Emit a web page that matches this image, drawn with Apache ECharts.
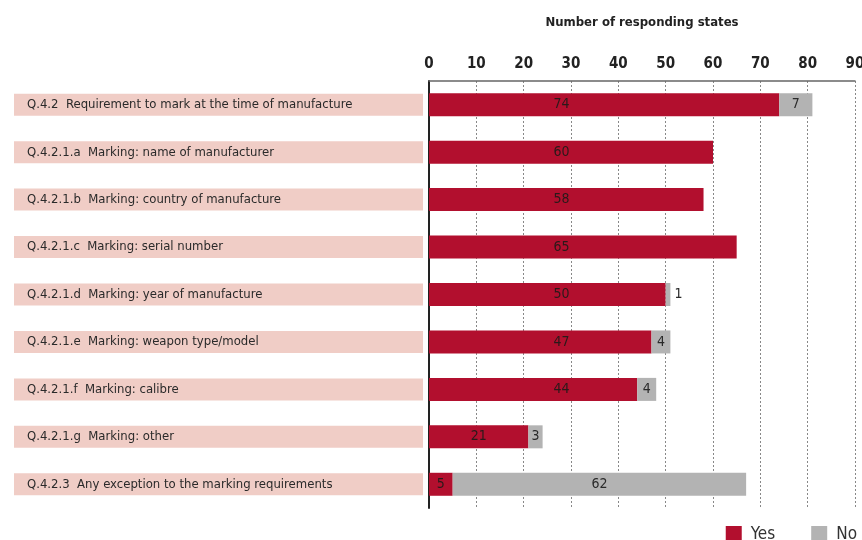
<!DOCTYPE html>
<html>
<head>
<meta charset="utf-8">
<script src="https://cdn.jsdelivr.net/npm/echarts@6/dist/echarts.min.js"></script>
<style>
  html, body { margin: 0; padding: 0; background: #fff; }
  #chart { width: 862px; height: 540px; }
</style>
</head>
<body>
<div id="chart"></div>
<script>
const categories = [
  'Q.4.2  Requirement to mark at the time of manufacture',
  'Q.4.2.1.a  Marking: name of manufacturer',
  'Q.4.2.1.b  Marking: country of manufacture',
  'Q.4.2.1.c  Marking: serial number',
  'Q.4.2.1.d  Marking: year of manufacture',
  'Q.4.2.1.e  Marking: weapon type/model',
  'Q.4.2.1.f  Marking: calibre',
  'Q.4.2.1.g  Marking: other',
  'Q.4.2.3  Any exception to the marking requirements'
];
const yesValues = [74, 60, 58, 65, 50, 47, 44, 21, 5];
const noValues = [7, 0, 0, 0, 1, 4, 4, 3, 62];
const xTicks = [0, 10, 20, 30, 40, 50, 60, 70, 80, 90];

const FONT = '"DejaVu Sans Condensed", "Liberation Sans Narrow", sans-serif';
const pxPerUnit = 426 / 90;

const chart = echarts.init(document.getElementById('chart'));

const yesData = yesValues.map(v => ({
  value: v,
  label: {
    // long bars keep their number near the middle of the axis
    position: v >= 40 ? [28 * pxPerUnit, '50%'] : 'inside'
  }
}));

const noData = noValues.map(v => ({
  value: v,
  label: {
    show: v > 0,
    position: v < 2 ? 'right' : 'inside'
  }
}));

const option = {
  animation: false,
  textStyle: { fontFamily: FONT },
  grid: { left: 429, right: 7, top: 81, bottom: 32, outerBoundsMode: 'none', containLabel: false },
  legend: {
    right: 0,
    top: 521,
    itemWidth: 16,
    itemHeight: 17,
    itemGap: 36,
    icon: 'rect',
    textStyle: { fontFamily: FONT, fontSize: 17, color: '#333', padding: [0, 0, 0, 4] },
    data: ['Yes', 'No']
  },
  xAxis: {
    type: 'value',
    position: 'top',
    min: 0,
    max: 90,
    interval: 10,
    name: 'Number of responding states',
    nameLocation: 'middle',
    nameGap: 52,
    nameTextStyle: { fontFamily: FONT, fontWeight: 'bold', fontSize: 13, color: '#222' },
    axisLine: { show: true, lineStyle: { color: '#666', width: 1.5 } },
    axisTick: { show: false },
    axisLabel: {
      margin: 9,
      fontFamily: FONT,
      fontWeight: 'bold',
      fontSize: 15,
      color: '#222',
      formatter: v => xTicks.includes(v) ? String(v) : ''
    },
    splitLine: { show: true, lineStyle: { color: '#888', type: [2, 2], width: 1 } }
  },
  yAxis: {
    type: 'category',
    inverse: true,
    data: categories,
    axisLine: { show: true, lineStyle: { color: '#222', width: 2 } },
    axisTick: { show: false },
    axisLabel: {
      margin: 415,
      align: 'left',
      width: 396,
      lineHeight: 22,
      padding: [0, 0, 0, 13],
      backgroundColor: '#f0cdc6',
      fontFamily: FONT,
      fontSize: 13,
      color: '#2a2a2a'
    }
  },
  series: [
    {
      name: 'Yes',
      type: 'bar',
      stack: 'total',
      barWidth: 23,
      itemStyle: { color: '#b20f2e' },
      label: {
        show: true,
        align: 'center',
        verticalAlign: 'middle',
        fontFamily: FONT,
        fontSize: 14,
        color: '#2a1a1a'
      },
      data: yesData
    },
    {
      name: 'No',
      type: 'bar',
      stack: 'total',
      barWidth: 23,
      itemStyle: { color: '#b3b3b3' },
      label: {
        show: true,
        distance: 4,
        fontFamily: FONT,
        fontSize: 14,
        color: '#2a2a2a'
      },
      data: noData
    }
  ]
};

chart.setOption(option);
</script>
</body>
</html>
